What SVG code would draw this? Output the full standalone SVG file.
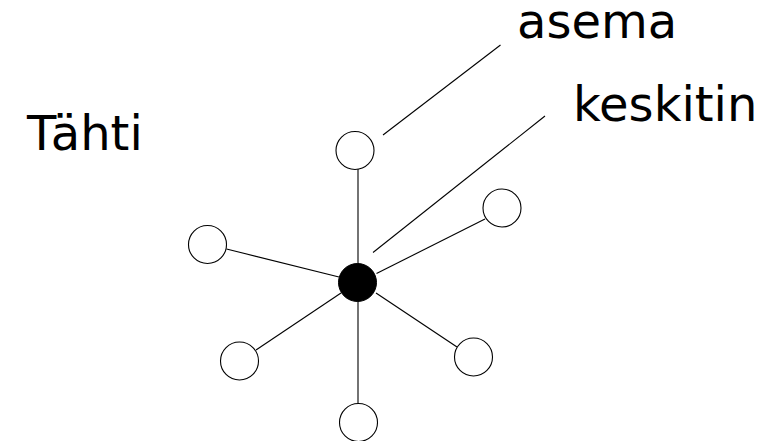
<svg xmlns="http://www.w3.org/2000/svg" width="775" height="441" viewBox="0 0 775 441">
<style>
.node{fill:#fff;stroke:#000;stroke-width:1.1}
.hub{fill:#000;stroke:#000;stroke-width:1}
.edge{stroke:#000;stroke-width:1.1;fill:none}
.lbl{font-family:"DejaVu Sans",sans-serif;font-size:48px;fill:#000}
</style>
<rect width="775" height="441" fill="#fff"/>
<g id="connectors">
<line class="edge" x1="358" y1="169" x2="358" y2="265"/>
<line class="edge" x1="358" y1="300" x2="358" y2="405"/>
<line class="edge" x1="226.5" y1="249" x2="339" y2="277"/>
<line class="edge" x1="256" y1="350" x2="341" y2="293"/>
<line class="edge" x1="376" y1="293" x2="457" y2="347"/>
<line class="edge" x1="376.5" y1="273.5" x2="485" y2="219"/>
<line class="edge" x1="373" y1="252.5" x2="545" y2="116"/>
<line class="edge" x1="383" y1="135" x2="500.5" y2="45"/>
</g>
<g id="n-top"><circle class="node" cx="355" cy="150.5" r="19"/></g>
<g id="n-hub"><circle class="hub" cx="357.5" cy="282.5" r="19"/></g>
<g id="n-upright"><circle class="node" cx="502" cy="208" r="19"/></g>
<g id="n-left"><circle class="node" cx="207.5" cy="244.5" r="19"/></g>
<g id="n-lowleft"><circle class="node" cx="239.5" cy="361" r="19"/></g>
<g id="n-lowright"><circle class="node" cx="473.5" cy="357" r="19"/></g>
<g id="n-bottom"><circle class="node" cx="358.5" cy="422.5" r="19"/></g>
<g id="labels">
<text class="lbl" x="27" y="150">Tähti</text>
<text class="lbl" x="517" y="37.5">asema</text>
<text class="lbl" x="573" y="121">keskitin</text>
</g>
</svg>
